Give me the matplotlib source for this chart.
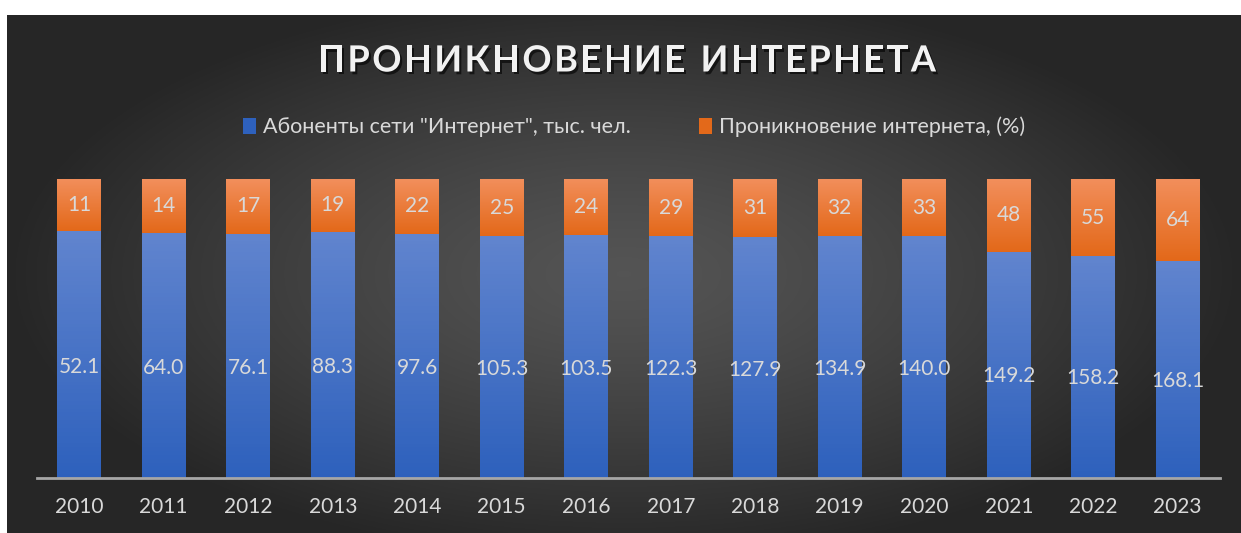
import numpy as np
import matplotlib
matplotlib.use("Agg")
import matplotlib.pyplot as plt
import matplotlib.patheffects as pe
from matplotlib.patches import Patch

plt.rcParams['font.family'] = ['Lato', 'DejaVu Sans']

# данные
years = ['2010', '2011', '2012', '2013', '2014', '2015', '2016',
         '2017', '2018', '2019', '2020', '2021', '2022', '2023']
abonenty = [52.1, 64.0, 76.1, 88.3, 97.6, 105.3, 103.5,
            122.3, 127.9, 134.9, 140.0, 149.2, 158.2, 168.1]
proniknovenie = [11, 14, 17, 19, 22, 25, 24, 29, 31, 32, 33, 48, 55, 64]

ser_names = ['Абоненты сети "Интернет", тыс. чел.', 'Проникновение интернета, (%)']
title = 'ПРОНИКНОВЕНИЕ ИНТЕРНЕТА'

txt_col = '#d9d9d9'
blue_top, blue_bot = (0.38, 0.52, 0.81), (0.18, 0.38, 0.74)
orng_top, orng_bot = (0.95, 0.56, 0.36), (0.89, 0.41, 0.10)

W, H = 1241, 533
fig = plt.figure(figsize=(W / 100, H / 100), dpi=100, facecolor='white')

# тёмный фон с радиальным градиентом
bg = fig.add_axes([7 / W, 0, 1 - 7 / W, (H - 15) / H])
bg.set_axis_off()
yy, xx = np.mgrid[-1:1:300j, -1:1:700j]
r = np.clip(np.sqrt(xx ** 2 + (yy * 0.9) ** 2), 0, 1)
shade = 0.33 - 0.18 * r ** 1.3
bg.imshow(np.dstack([shade] * 3), aspect='auto', extent=[0, 1, 0, 1])
bg.set_xlim(0, 1)
bg.set_ylim(0, 1)

ax = fig.add_axes([37 / W, 1 - 478 / H, (1220 - 37) / W, (478 - 179) / H])
ax.set_facecolor('none')

x = np.arange(len(years))
a = np.array(abonenty)
p = np.array(proniknovenie)
tot = a + p
fa = a / tot
fp = p / tot

shadow = [pe.withSimplePatchShadow(offset=(0, 0), shadow_rgbFace='black', alpha=0.35)]
bars_a = ax.bar(x, fa, width=0.52, color=blue_bot, zorder=2, path_effects=shadow)
bars_p = ax.bar(x, fp, bottom=fa, width=0.52, color=orng_bot, zorder=2, path_effects=shadow)


def fill_gradient(bars, top, bot):
    for b in bars:
        x0, y0 = b.get_x(), b.get_y()
        w, h = b.get_width(), b.get_height()
        t = np.linspace(0, 1, 64)[:, None]
        img = np.array(top)[None, None, :] * (1 - t[..., None]) + np.array(bot)[None, None, :] * t[..., None]
        im = ax.imshow(img, extent=[x0, x0 + w, y0, y0 + h], aspect='auto',
                       origin='upper', zorder=3)
        im.set_clip_path(b)


fill_gradient(bars_a, blue_top, blue_bot)
fill_gradient(bars_p, orng_top, orng_bot)

for i in range(len(years)):
    ax.text(x[i], fa[i] * 0.45, f'{abonenty[i]:.1f}', ha='center', va='center',
            color=txt_col, fontsize=15, zorder=4)
    ax.text(x[i], fa[i] + fp[i] / 2, f'{proniknovenie[i]}', ha='center', va='center',
            color=txt_col, fontsize=15, zorder=4)

ax.set_xlim(-0.5, len(years) - 0.5)
ax.set_ylim(0, 1)
ax.set_yticks([])
ax.set_xticks(x)
ax.set_xticklabels(years, color=txt_col, fontsize=15)
ax.tick_params(axis='x', length=0, pad=14)
for s in ['top', 'right', 'left']:
    ax.spines[s].set_visible(False)
ax.spines['bottom'].set_color('#a6a6a6')
ax.spines['bottom'].set_linewidth(2)
ax.spines['bottom'].set_zorder(5)

# легенда
handles = [Patch(facecolor=blue_bot, edgecolor='none'), Patch(facecolor=orng_bot, edgecolor='none')]
fig.legend(handles, ser_names, loc='center', bbox_to_anchor=(634 / W, 1 - 127 / H),
           ncol=2, frameon=False, fontsize=15.5, labelcolor=txt_col,
           handlelength=0.6, handleheight=0.8, handletextpad=0.3, columnspacing=3.2)

# заголовок с разрядкой
fig.canvas.draw()
renderer = fig.canvas.get_renderer()
tfont = dict(fontsize=26, fontweight='bold', color='#f2f2f2')
spacing = 2.5
widths = []
for ch in title:
    t = fig.text(0, 0, ch if ch != ' ' else 'I', **tfont)
    widths.append(t.get_window_extent(renderer).width)
    t.remove()
total = sum(widths) + spacing * (len(title) - 1)
cx = 627 - total / 2
ty = 1 - 61 / H
for ch, w in zip(title, widths):
    if ch != ' ':
        fig.text(cx / W, ty, ch, ha='left', va='center', **tfont,
                 path_effects=[pe.withSimplePatchShadow(offset=(1.5, -2), shadow_rgbFace='black', alpha=0.6)])
    cx += w + spacing

fig.savefig('out.png', dpi=100, facecolor=fig.get_facecolor())
